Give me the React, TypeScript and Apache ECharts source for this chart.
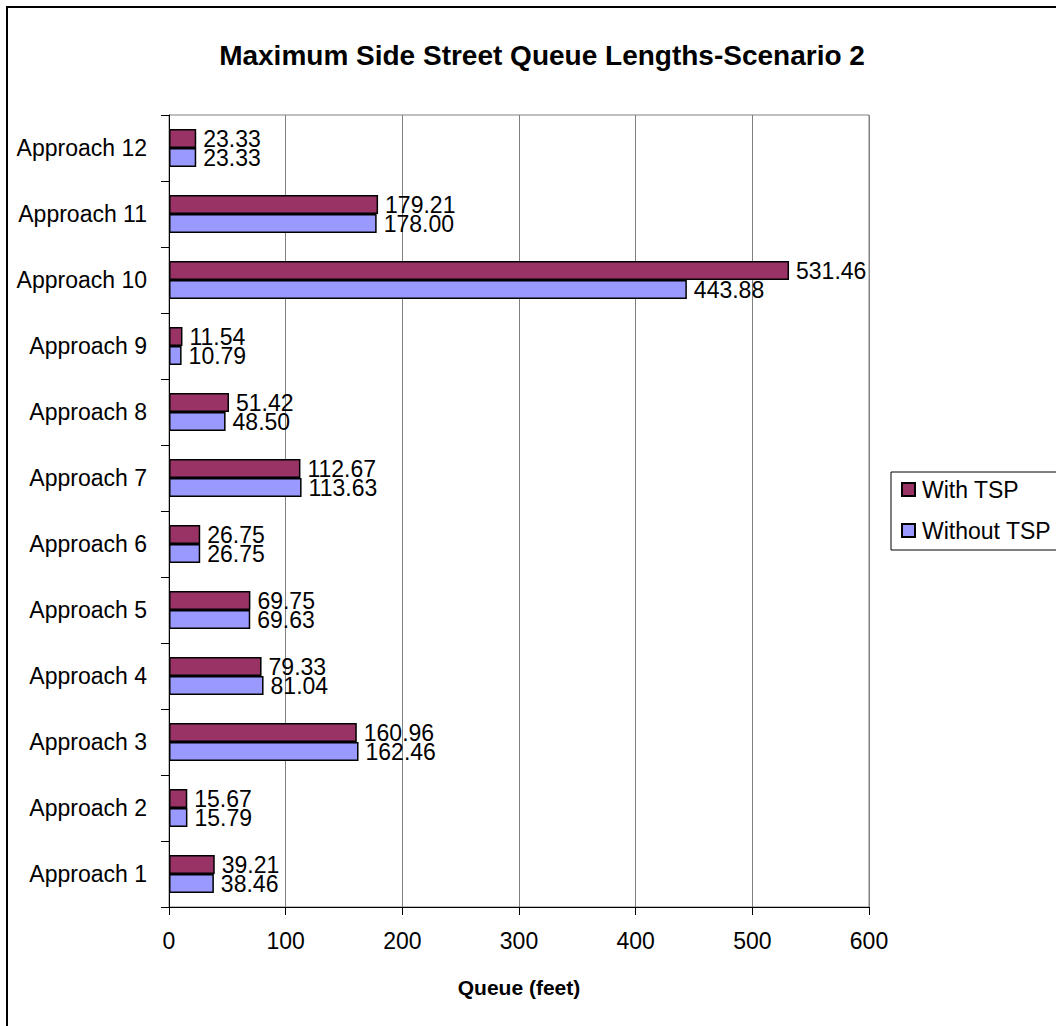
import React, { useEffect, useRef } from "react";
import * as echarts from "echarts";

const categories = [
  "Approach 1", "Approach 2", "Approach 3", "Approach 4", "Approach 5", "Approach 6",
  "Approach 7", "Approach 8", "Approach 9", "Approach 10", "Approach 11", "Approach 12",
];
const withTSP = [39.21, 15.67, 160.96, 79.33, 69.75, 26.75, 112.67, 51.42, 11.54, 531.46, 179.21, 23.33];
const withoutTSP = [38.46, 15.79, 162.46, 81.04, 69.63, 26.75, 113.63, 48.5, 10.79, 443.88, 178.0, 23.33];
const xTicks = [0, 100, 200, 300, 400, 500, 600];

const FONT = "'Liberation Sans', Arial, sans-serif";

export default function App() {
  const ref = useRef<HTMLDivElement>(null);
  useEffect(() => {
    if (!ref.current) return;
    const chart = echarts.init(ref.current, null, { renderer: "svg" });
    const label = {
      show: true,
      position: "right",
      distance: 7,
      color: "#000",
      fontSize: 23,
      fontFamily: FONT,
      formatter: (p: any) => Number(p.value).toFixed(2),
    };
    chart.setOption({
      animation: false,
      backgroundColor: "#fff",
      textStyle: { fontFamily: FONT, color: "#000" },
      title: {
        text: "Maximum Side Street Queue Lengths-Scenario 2",
        left: 537,
        top: 36,
        textAlign: "center",
        textStyle: { fontSize: 28, fontWeight: "bold", color: "#000", fontFamily: FONT },
      },
      legend: {
        orient: "vertical",
        left: 891,
        top: 472,
        data: ["With TSP", "Without TSP"],
        icon: "rect",
        itemWidth: 13,
        itemHeight: 13,
        itemGap: 18,
        padding: [6, 10, 8, 10],
        borderColor: "#000",
        borderWidth: 1,
        textStyle: { fontSize: 23, color: "#000", fontFamily: FONT, padding: [0, 0, 0, 2] },
      },
      grid: {
        left: 169,
        right: 187,
        top: 115,
        bottom: 119,
        show: true,
        borderColor: "#808080",
        borderWidth: 1,
        containLabel: false,
      },
      xAxis: {
        type: "value",
        min: 0,
        max: 600,
        interval: 100,
        name: "Queue (feet)",
        nameLocation: "middle",
        nameGap: 70,
        nameTextStyle: { fontSize: 21, fontWeight: "bold", color: "#000", fontFamily: FONT },
        axisLine: { show: true, lineStyle: { color: "#000", width: 1 } },
        axisTick: { show: true, length: 8, lineStyle: { color: "#000" } },
        axisLabel: {
          fontSize: 23,
          color: "#000",
          margin: 22,
          fontFamily: FONT,
          formatter: (v: number) => (xTicks.includes(v) ? String(v) : ""),
        },
        splitLine: { show: true, lineStyle: { color: "#808080", width: 1 } },
      },
      yAxis: {
        type: "category",
        data: categories,
        axisLine: { show: true, lineStyle: { color: "#000", width: 1 } },
        axisTick: { show: true, length: 8, lineStyle: { color: "#000" } },
        axisLabel: { fontSize: 23, color: "#000", margin: 22, fontFamily: FONT },
      },
      series: [
        {
          name: "With TSP",
          type: "bar",
          data: withTSP,
          barWidth: 19,
          barGap: "0%",
          itemStyle: { color: "#993366", borderColor: "#000", borderWidth: 1.5 },
          label,
        },
        {
          name: "Without TSP",
          type: "bar",
          data: withoutTSP,
          barWidth: 19,
          barGap: "0%",
          itemStyle: { color: "#9999FF", borderColor: "#000", borderWidth: 1.5 },
          label,
        },
      ],
      graphic: [
        {
          type: "rect",
          shape: { x: 7, y: 7, width: 1200, height: 1200 },
          style: { fill: "none", stroke: "#000", lineWidth: 2 },
          silent: true,
          z: 100,
        },
      ],
    });
    return () => chart.dispose();
  }, []);
  return (
    <div
      ref={ref}
      style={{ position: "absolute", left: 0, top: 0, width: 1056, height: 1026 }}
    />
  );
}
